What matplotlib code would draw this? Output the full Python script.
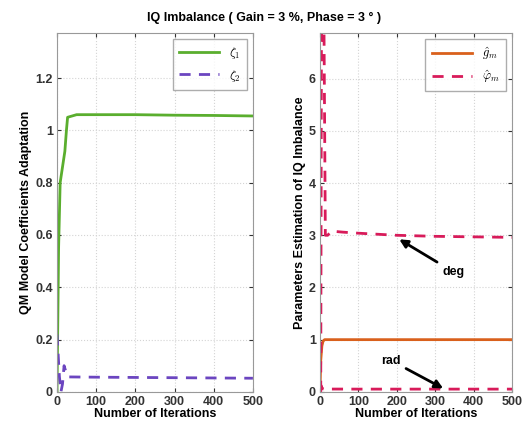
"""IQ imbalance adaptation curves, two panels."""

import matplotlib

matplotlib.use("Agg")
import matplotlib.pyplot as plt

plt.rcParams["font.family"] = ["Liberation Sans", "DejaVu Sans"]
plt.rcParams["mathtext.fontset"] = "cm"

# left panel: QM model coefficients
zeta1_x = [0, 4, 8, 14, 20, 24, 27, 50, 100, 200, 300, 400, 500]
zeta1_y = [0.0, 0.55, 0.80, 0.86, 0.92, 1.00, 1.05, 1.06, 1.06, 1.06, 1.058, 1.057, 1.055]
zeta2_x = [0, 3, 6, 10, 14, 18, 22, 26, 30, 100, 200, 300, 400, 500]
zeta2_y = [0.22, 0.14, 0.06, 0.0, 0.03, 0.10, 0.08, 0.06, 0.057, 0.056, 0.055, 0.054, 0.053, 0.052]

# right panel: gain / phase estimates
gain_x = [0, 2, 5, 8, 12, 50, 100, 200, 300, 400, 500]
gain_y = [0.0, 0.6, 0.88, 0.97, 1.0, 1.0, 1.0, 1.0, 1.0, 1.0, 1.0]
phase_deg_x = [2, 4, 10, 14, 20, 30, 60, 100, 200, 300, 400, 500]
phase_deg_y = [0.0, 7.5, 7.5, 3.0, 3.0, 3.08, 3.06, 3.04, 3.0, 2.98, 2.97, 2.96]
phase_rad_x = [0, 3, 6, 10, 20, 50, 100, 200, 300, 400, 500]
phase_rad_y = [0.0, 0.12, 0.06, 0.05, 0.053, 0.053, 0.052, 0.052, 0.052, 0.052, 0.052]

x_ticks = [0, 100, 200, 300, 400, 500]
left_yticks = [0, 0.2, 0.4, 0.6, 0.8, 1, 1.2]
right_yticks = [0, 1, 2, 3, 4, 5, 6]

GREEN = "#5aae2e"
PURPLE = "#6b45c0"
ORANGE = "#d9601c"
CRIMSON = "#d81b5a"


def style_axes(ax):
    ax.grid(True, color="#d4d4d4", linestyle=":", linewidth=0.8)
    ax.tick_params(direction="in", top=True, right=True, labelsize=9,
                   colors="#333333", length=3, pad=3)
    for spine in ax.spines.values():
        spine.set_color("#999999")
        spine.set_linewidth(0.8)
    ax.set_xlim(0, 500)
    ax.set_xticks(x_ticks)
    ax.set_xticklabels([str(t) for t in x_ticks], fontweight="bold")
    ax.set_xlabel("Number of Iterations", fontsize=9, fontweight="bold", labelpad=0)


fig = plt.figure(figsize=(5.28, 4.32), dpi=100)
ax1 = fig.add_axes([0.108, 0.093, 0.371, 0.831])
ax2 = fig.add_axes([0.606, 0.093, 0.364, 0.831])

ax1.plot(zeta1_x, zeta1_y, color=GREEN, linewidth=2, label=r"$\zeta_1$")
ax1.plot(zeta2_x, zeta2_y, color=PURPLE, linewidth=2, linestyle=(0, (4, 3)), label=r"$\zeta_2$")
ax1.set_ylim(0, 1.373)
ax1.set_yticks(left_yticks)
ax1.set_yticklabels([f"{t:g}" for t in left_yticks], fontweight="bold")
ax1.set_ylabel("QM Model Coefficients Adaptation", fontsize=9, fontweight="bold", labelpad=2)
style_axes(ax1)
ax1.legend(loc="upper right", fontsize=9, fancybox=False, edgecolor="#999999",
           handlelength=3.2, borderpad=0.5, labelspacing=0.5)

ax2.plot(gain_x, gain_y, color=ORANGE, linewidth=2, label=r"$\hat{g}_m$")
ax2.plot(phase_deg_x, phase_deg_y, color=CRIMSON, linewidth=2, linestyle=(0, (4, 3)),
         label=r"$\hat{\varphi}_m$")
ax2.plot(phase_rad_x, phase_rad_y, color=CRIMSON, linewidth=2, linestyle=(0, (4, 3)))
ax2.set_ylim(0, 6.88)
ax2.set_yticks(right_yticks)
ax2.set_yticklabels([str(t) for t in right_yticks], fontweight="bold")
ax2.set_ylabel("Parameters Estimation of IQ Imbalance", fontsize=9, fontweight="bold", labelpad=2)
style_axes(ax2)
ax2.legend(loc="upper right", fontsize=9, fancybox=False, edgecolor="#999999",
           handlelength=3.2, borderpad=0.5, labelspacing=0.5)

arrow = dict(arrowstyle="-|>", color="black", linewidth=2, mutation_scale=12)
ax2.annotate("deg", xy=(200, 2.95), xytext=(318, 2.3), fontsize=9, fontweight="bold",
             ha="left", va="center", arrowprops=arrow)
ax2.annotate("rad", xy=(327, 0.04), xytext=(185, 0.6), fontsize=9, fontweight="bold",
             ha="center", va="center", arrowprops=arrow)

fig.suptitle("IQ Imbalance ( Gain = 3 %, Phase = 3 ° )", x=0.5, y=0.972,
             fontsize=9, fontweight="bold")

fig.savefig("out.png", dpi=100)
